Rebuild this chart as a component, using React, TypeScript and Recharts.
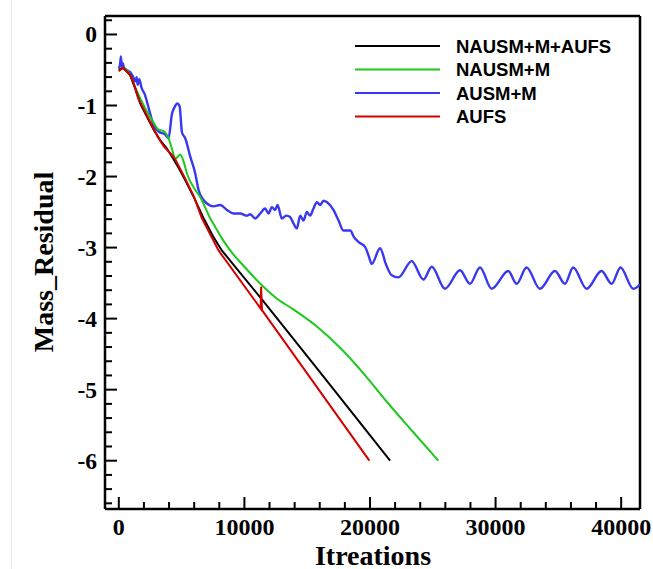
import React from 'react';
import { LineChart, Line, XAxis, YAxis, ReferenceLine, Legend, Label } from 'recharts';

// ---- data (x = iterations, y = log mass residual) ----
const blackSeries: [number, number][] = [
  [0, -0.5], [350, -0.47], [900, -0.57], [1300, -0.76], [1700, -0.97], [2300, -1.18], [2800, -1.35],
  [3300, -1.49], [3800, -1.6], [4300, -1.74], [4700, -1.86], [5200, -2.02], [6000, -2.3], [6700, -2.57],
  [7500, -2.84], [8200, -3.04], [11440, -3.74], [16000, -4.75], [21600, -6.0],
];
const greenSeries: [number, number][] = [
  [0, -0.5], [350, -0.47], [900, -0.57], [1300, -0.74], [1710, -0.9], [2200, -1.07], [2700, -1.22],
  [3170, -1.34], [3560, -1.36], [3960, -1.46], [4230, -1.61], [4500, -1.75], [4890, -1.69], [5160, -1.79],
  [5430, -1.96], [6090, -2.19], [6480, -2.29], [7280, -2.59], [7680, -2.71], [8210, -2.87], [8870, -3.04],
  [10000, -3.27], [11390, -3.53], [12600, -3.72], [13900, -3.87], [15770, -4.11], [17620, -4.41],
  [19480, -4.77], [21340, -5.17], [23450, -5.6], [25440, -6.0],
];
const blueSeries: [number, number][] = [
  [0, -0.48], [100, -0.42], [170, -0.31], [230, -0.45], [300, -0.4], [420, -0.47], [620, -0.5], [900, -0.53],
  [1150, -0.6], [1300, -0.66], [1420, -0.6], [1500, -0.71], [1630, -0.63], [1810, -0.75], [2080, -0.85],
  [2400, -1.05], [2770, -1.28], [3200, -1.37], [3700, -1.41], [3960, -1.46], [4230, -1.12], [4450, -1.02],
  [4650, -0.97], [4840, -1.01], [5030, -1.38], [5290, -1.46], [5690, -1.72], [6090, -1.96], [6350, -2.19],
  [6750, -2.33], [7020, -2.38], [7540, -2.42], [8070, -2.4], [8610, -2.47], [9130, -2.52], [9660, -2.52],
  [10200, -2.55], [10460, -2.53], [10860, -2.59], [11260, -2.52], [11650, -2.45], [11920, -2.52],
  [12190, -2.43], [12450, -2.47], [12640, -2.4], [12980, -2.59], [13330, -2.55], [13640, -2.57],
  [13910, -2.66], [14180, -2.73], [14440, -2.55], [14700, -2.62], [14970, -2.5], [15230, -2.55],
  [15500, -2.45], [15770, -2.36], [16030, -2.4], [16300, -2.34], [16560, -2.36], [17090, -2.47],
  [17500, -2.62], [17880, -2.76], [18420, -2.76], [18750, -2.86], [19080, -2.92], [19610, -2.99],
  [19900, -3.12], [20140, -3.23], [20800, -3.01], [21300, -3.25], [21730, -3.39], [22260, -3.42],
  [23320, -3.19], [24250, -3.45], [24920, -3.27], [25970, -3.58], [27170, -3.32], [27960, -3.51],
  [28760, -3.28], [29690, -3.58], [31010, -3.33], [31680, -3.51], [32470, -3.28], [33530, -3.58],
  [34730, -3.33], [35520, -3.51], [36180, -3.28], [37250, -3.58], [38440, -3.33], [39240, -3.51],
  [39950, -3.28], [40960, -3.58], [41500, -3.52],
];
const redSeries: [number, number][] = [
  [0, -0.52], [100, -0.5], [350, -0.47], [900, -0.57], [1150, -0.67], [1550, -0.9], [1950, -1.04],
  [2350, -1.18], [2750, -1.32], [3100, -1.44], [3600, -1.58], [4200, -1.69], [4500, -1.76], [5200, -2.0],
  [6000, -2.29], [6600, -2.58], [7940, -3.04], [11300, -3.86], [11330, -3.55], [11400, -3.88],
  [19950, -6.0],
];

const seriesNames = ['NAUSM+M+AUFS', 'NAUSM+M', 'AUSM+M', 'AUFS'];
const seriesColors = ['#000000', '#1ec81e', '#3838f0', '#d40000'];

const xTicks = [0, 2000, 4000, 6000, 8000, 10000, 12000, 14000, 16000, 18000, 20000, 22000, 24000, 26000,
  28000, 30000, 32000, 34000, 36000, 38000, 40000];
const xTickLabels = [0, 10000, 20000, 30000, 40000];
const yTicks = [0.2, 0, -0.2, -0.4, -0.6, -0.8, -1, -1.2, -1.4, -1.6, -1.8, -2, -2.2, -2.4, -2.6, -2.8, -3,
  -3.2, -3.4, -3.6, -3.8, -4, -4.2, -4.4, -4.6, -4.8, -5, -5.2, -5.4, -5.6, -5.8, -6, -6.2, -6.4, -6.6];
const yTickLabels = [0, -1, -2, -3, -4, -5, -6];

const xDomain = [-1100, 41500];
const yDomain = [-6.68, 0.26];

const toRows = (s: [number, number][]) => s.map(([x, y]) => ({ x, y }));
const allSeries = [blackSeries, greenSeries, blueSeries, redSeries].map(toRows);

const serif = '"Liberation Serif", "Times New Roman", serif';
const sans = '"Liberation Sans", Arial, sans-serif';

const YTick = (props: any) => {
  const { x, y, payload } = props;
  const v = payload.value;
  const major = yTickLabels.includes(v);
  return (
    <g>
      <line x1={x} x2={x + (major ? 12 : 7)} y1={y} y2={y} stroke="#000" strokeWidth={2} />
      {major && (
        <text x={x - 8} y={y} dy={8} textAnchor="end" fontFamily={serif} fontWeight="bold" fontSize={23.5} fill="#000">
          {String(v)}
        </text>
      )}
    </g>
  );
};

const XTick = (props: any) => {
  const { x, y, payload } = props;
  const v = payload.value;
  const major = xTickLabels.includes(v);
  return (
    <g>
      <line x1={x} x2={x} y1={y} y2={y - (major ? 12 : 7)} stroke="#000" strokeWidth={2} />
      {major && (
        <text x={x} y={y + 26} textAnchor="middle" fontFamily={serif} fontWeight="bold" fontSize={24} fill="#000">
          {String(v)}
        </text>
      )}
    </g>
  );
};

const LegendBox = () => (
  <svg width={300} height={110}>
    {seriesNames.map((name, i) => {
      const yy = 16 + i * 23.5;
      return (
        <g key={name}>
          <line x1={5} x2={90} y1={yy} y2={yy} stroke={seriesColors[i]} strokeWidth={2.2} />
          <text x={106} y={yy + 6.5} fontFamily={sans} fontWeight="bold" fontSize={18.5} fill="#000">
            {name}
          </text>
        </g>
      );
    })}
  </svg>
);

export default function App() {
  return (
    <div style={{ position: 'absolute', left: 0, top: 0, width: 653, height: 569, background: '#fff' }}>
      <div style={{ position: 'absolute', left: 11, top: 0, width: 1, height: 569, background: '#e6e6e6' }} />
      <LineChart width={653} height={569} margin={{ top: 16, right: 13, bottom: 0, left: 0 }}>
        <XAxis
          type="number"
          dataKey="x"
          domain={xDomain}
          ticks={xTicks}
          interval={0}
          height={60}
          tickSize={0}
          tickMargin={0}
          tick={<XTick />}
          tickLine={false}
          axisLine={{ stroke: '#000', strokeWidth: 2.5 }}
          allowDataOverflow
        >
          <Label
            content={() => (
              <text x={373} y={565} textAnchor="middle" fontFamily={serif} fontWeight="bold" fontSize={28} fill="#000">
                Itreations
              </text>
            )}
          />
        </XAxis>
        <YAxis
          type="number"
          dataKey="y"
          domain={yDomain}
          ticks={yTicks}
          interval={0}
          width={105}
          tickSize={0}
          tickMargin={0}
          tick={<YTick />}
          tickLine={false}
          axisLine={{ stroke: '#000', strokeWidth: 2.5 }}
          allowDataOverflow
        >
          <Label
            content={() => (
              <text
                x={53}
                y={262}
                transform="rotate(-90, 53, 262)"
                textAnchor="middle"
                fontFamily={serif}
                fontWeight="bold"
                fontSize={28}
                fill="#000"
              >
                Mass_Residual
              </text>
            )}
          />
        </YAxis>
        <ReferenceLine y={yDomain[1]} stroke="#000" strokeWidth={2.5} />
        <ReferenceLine x={xDomain[1]} stroke="#000" strokeWidth={2.5} />
        <Line data={allSeries[2]} dataKey="y" type="monotone" stroke={seriesColors[2]} strokeWidth={2.4} dot={false} isAnimationActive={false} />
        <Line data={allSeries[1]} dataKey="y" type="monotone" stroke={seriesColors[1]} strokeWidth={2} dot={false} isAnimationActive={false} />
        <Line data={allSeries[0]} dataKey="y" type="linear" stroke={seriesColors[0]} strokeWidth={2} dot={false} isAnimationActive={false} />
        <Line data={allSeries[3]} dataKey="y" type="linear" stroke={seriesColors[3]} strokeWidth={2} dot={false} isAnimationActive={false} />
        <Legend
          layout="vertical"
          align="center"
          verticalAlign="middle"
          wrapperStyle={{ left: 350, top: 30, width: 300, height: 110 }}
          content={() => <LegendBox />}
        />
      </LineChart>
    </div>
  );
}
